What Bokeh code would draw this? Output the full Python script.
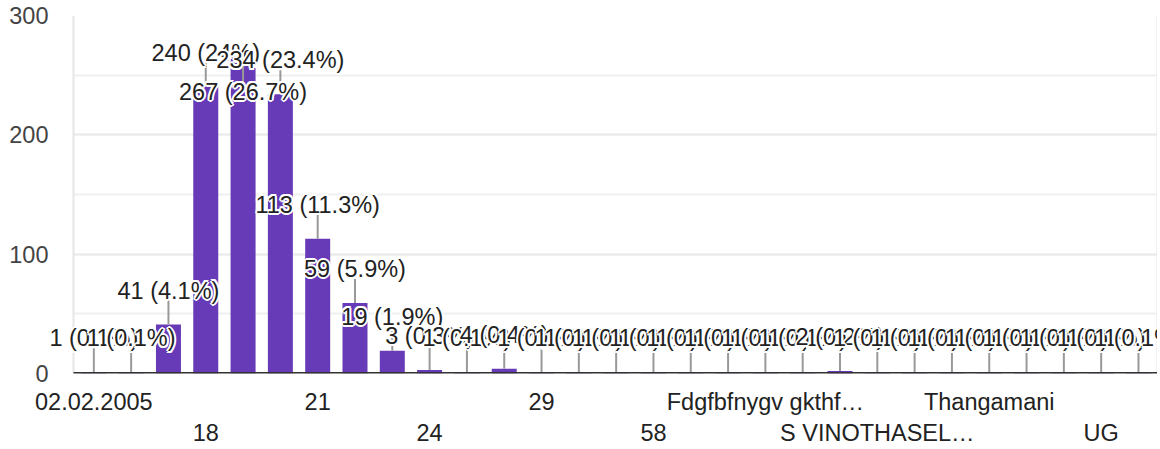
from bokeh.plotting import figure
from bokeh.models import (ColumnDataSource, Range1d, LinearAxis, FixedTicker,
                          SingleIntervalTicker, LabelSet, Span, BoxAnnotation)
from bokeh.core.properties import value
from bokeh.embed import file_html
from bokeh.resources import INLINE

# ---------------- data ----------------
categories = ["02.02.2005", "16", "17", "18", "19", "20", "21", "22", "23", "24",
              "25", "26", "29", "30", "35", "58", "8", "BCA",
              "Fdgfbfnygv gkthf\u2026", "Female", "Male", "S VINOTHASEL\u2026",
              "Student", "TN", "Thangamani", "Tirunelveli", "Trichy", "UG", "Yes"]
counts = [1, 1, 41, 240, 267, 234, 113, 59, 19, 3,
          1, 4, 1, 1, 1, 1, 1, 1,
          1, 1, 2, 1,
          1, 1, 1, 1, 1, 1, 1]
y_ticks = [0, 100, 200, 300]

n = len(categories)
total = sum(counts)


def pct(v):
    return f"{round(v / total * 100, 1):g}"


labels = [f"{v} ({pct(v)}%)" for v in counts]
idx = list(range(n))
row1 = list(range(0, n, 6))
row2 = list(range(3, n, 6))

# ---------------- style ----------------
FONT = "Liberation Sans"
FS = "23.5px"
PURPLE = "#673ab7"
BORDER = "#e6e6e6"
LEFT = 73                         # chart area left edge (px)
CHART_W, FRAME_H = 1084, 358      # visible chart area
EXT = 40                          # extra frame room on the left so labels are not clipped
YMAX = y_ticks[-1]
upx = YMAX / FRAME_H              # data units per screen pixel

x_lo, x_hi = -0.545, n - 1 + 0.51
x_per_px = (x_hi - x_lo) / CHART_W
x_lo_ext = x_lo - EXT * x_per_px

# label lift above bar top (px); one label pushed inside its bar by collision
label_lift = [34] * n
label_lift[4] = -37

p = figure(frame_width=CHART_W + EXT, frame_height=FRAME_H,
           x_range=Range1d(x_lo_ext, x_hi), y_range=Range1d(0, YMAX),
           x_axis_type=None, output_backend="svg", toolbar_location=None,
           min_border_left=LEFT - EXT, min_border_right=0, min_border_top=15,
           min_border_bottom=0)
p.background_fill_color = "white"
p.border_fill_color = "white"
p.outline_line_color = None

# y axis + grid
yt = SingleIntervalTicker(interval=100, num_minor_ticks=2)
p.yaxis.ticker = yt
p.ygrid.ticker = yt
p.ygrid.grid_line_color = "#ebebeb"
p.ygrid.grid_line_width = 2
p.ygrid.minor_grid_line_color = "#f0f0f0"
p.ygrid.minor_grid_line_width = 2
ya = p.yaxis[0]
ya.axis_line_color = None
ya.major_tick_line_color = None
ya.minor_tick_line_color = None
ya.major_tick_out = 0
ya.major_tick_in = 0
ya.minor_tick_out = 0
ya.major_label_standoff = 25 - EXT
ya.major_label_text_font = FONT
ya.major_label_text_font_size = FS
ya.major_label_text_color = "#444444"

# blank the extra left room (over the grid only)
p.add_layout(BoxAnnotation(right=x_lo, fill_color="white", fill_alpha=1,
                           line_color=None, level="underlay"))

# bars
p.vbar(x=idx, top=counts, width=0.67, color=PURPLE, line_color=None)

# annotation stems
stem_end = [c + (l - (10 if l > 0 else -10)) * upx for c, l in zip(counts, label_lift)]
p.segment(x0=idx, y0=counts, x1=idx, y1=stem_end, line_color="#999999", line_width=2)

# baseline across the chart area
p.segment(x0=[x_lo], y0=[0], x1=[x_hi], y1=[0], line_color="#333333", line_width=3)

# chart-area side borders
p.add_layout(Span(location=x_lo, dimension="height", line_color=BORDER, line_width=2, level="underlay"))
p.add_layout(Span(location=x_hi, dimension="height", line_color=BORDER, line_width=2, level="underlay"))

# labels with white halo, drawn label by label
halo = [(2, 0), (-2, 0), (0, 2), (0, -2), (1.4, 1.4), (-1.4, 1.4), (1.4, -1.4), (-1.4, -1.4)]
lx, ly, lt, lc, lxo, lyo = [], [], [], [], [], []
for i in idx:
    for dx, dy in halo + [(0, 0)]:
        lx.append(i)
        ly.append(counts[i])
        lt.append(labels[i])
        lc.append("#ffffff" if (dx, dy) != (0, 0) else "#222222")
        lxo.append(dx)
        lyo.append(label_lift[i] + dy)
lsrc = ColumnDataSource(dict(x=lx, y=ly, text=lt, color=lc, xo=lxo, yo=lyo))
p.add_layout(LabelSet(x="x", y="y", text="text", source=lsrc, x_offset="xo", y_offset="yo",
                      text_color="color", text_font=value(FONT), text_font_size=value(FS),
                      text_align="center", text_baseline="middle"))

# two staggered rows of category labels
for ticks, standoff in ((row1, 15), (row2, 2)):
    ax = LinearAxis(ticker=FixedTicker(ticks=ticks),
                    major_label_overrides={t: categories[t] for t in ticks})
    ax.axis_line_color = None
    ax.major_tick_line_color = None
    ax.minor_tick_line_color = None
    ax.major_tick_out = 0
    ax.major_tick_in = 0
    ax.minor_tick_out = 0
    ax.major_label_standoff = standoff
    ax.major_label_text_font = FONT
    ax.major_label_text_font_size = FS
    ax.major_label_text_color = "#222222"
    p.add_layout(ax, "below")

open("out.html", "w").write(file_html(p, INLINE))
